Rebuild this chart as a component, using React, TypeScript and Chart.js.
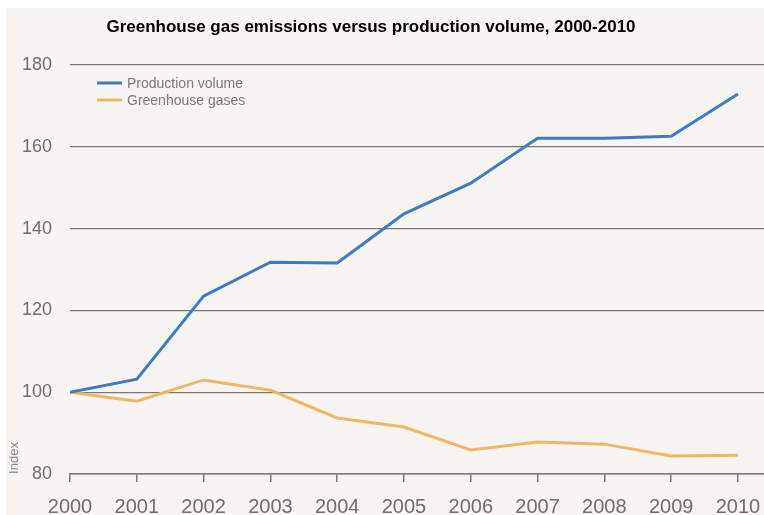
import React, { useEffect, useRef } from "react";
import { Chart, registerables } from "chart.js";

Chart.register(...registerables);

const years = [2000, 2001, 2002, 2003, 2004, 2005, 2006, 2007, 2008, 2009, 2010];
const productionVolume = [100, 103.2, 123.5, 131.8, 131.6, 143.6, 151.1, 162.1, 162.1, 162.6, 172.9];
const greenhouseGases = [100, 97.8, 103, 100.5, 93.7, 91.5, 85.9, 87.8, 87.3, 84.4, 84.6];
const yTicks = [80, 100, 120, 140, 160, 180];

const TITLE = "Greenhouse gas emissions versus production volume, 2000-2010";
const BG = "#f7f4f1";
const BLUE = "#3d7cc4";
const ORANGE = "#f0b866";
const TEXT_GREY = "#6e6e6e";
const FONT = "'Liberation Sans', Arial, sans-serif";

const decorations = {
  id: "decorations",
  beforeDraw(chart: any) {
    const { ctx, width, height } = chart;
    ctx.save();
    ctx.fillStyle = BG;
    ctx.fillRect(0, 0, width, height);
    ctx.restore();
  },
  afterDraw(chart: any) {
    const { ctx, chartArea } = chart;
    ctx.save();
    // title
    ctx.fillStyle = "#000";
    ctx.font = `bold 17px ${FONT}`;
    ctx.textAlign = "center";
    ctx.textBaseline = "middle";
    ctx.fillText(TITLE, 365, 19);

    // legend
    ctx.font = `14px ${FONT}`;
    ctx.textAlign = "left";
    chart.data.datasets.forEach((ds: any, i: number) => {
      const y = 75 + i * 17;
      ctx.strokeStyle = ds.borderColor;
      ctx.lineWidth = 3;
      ctx.beginPath();
      ctx.moveTo(91, y);
      ctx.lineTo(116, y);
      ctx.stroke();
      ctx.fillStyle = "#7a7a7a";
      ctx.fillText(ds.label, 121, y + 1);
    });

    // axis title
    ctx.translate(8, chartArea.bottom - 16);
    ctx.rotate(-Math.PI / 2);
    ctx.font = `13px ${FONT}`;
    ctx.fillStyle = "#8a8a8a";
    ctx.textAlign = "center";
    ctx.fillText("Index", 0, 0);
    ctx.restore();
  },
};

export default function App() {
  const canvasRef = useRef<HTMLCanvasElement>(null);

  useEffect(() => {
    if (!canvasRef.current) return;
    const chart = new Chart(canvasRef.current, {
      type: "line",
      data: {
        datasets: [
          {
            label: "Production volume",
            data: years.map((x, i) => ({ x, y: productionVolume[i] })),
            borderColor: BLUE,
            borderWidth: 3,
            pointRadius: 0,
            tension: 0,
          },
          {
            label: "Greenhouse gases",
            data: years.map((x, i) => ({ x, y: greenhouseGases[i] })),
            borderColor: ORANGE,
            borderWidth: 3,
            pointRadius: 0,
            tension: 0,
          },
        ],
      },
      options: {
        animation: false,
        responsive: false,
        maintainAspectRatio: false,
        layout: { padding: { top: 57, left: 0, right: 0, bottom: 0 } },
        plugins: {
          legend: { display: false },
          title: { display: false },
          tooltip: { enabled: false },
        },
        scales: {
          x: {
            type: "linear",
            min: 2000,
            max: 2010.39,
            afterBuildTicks: (scale: any) => {
              scale.ticks = years.map((v) => ({ value: v }));
            },
            afterFit: (scale: any) => {
              scale.height = 41;
              scale.paddingLeft = 0;
              scale.paddingRight = 0;
            },
            ticks: {
              callback: (v: any) => String(v),
              color: TEXT_GREY,
              font: { family: FONT, size: 20 },
              padding: 13,
              maxRotation: 0,
              autoSkip: false,
            },
            grid: {
              drawOnChartArea: false,
              drawTicks: true,
              tickLength: 8,
              color: "#777",
              lineWidth: 1.5,
            },
            border: { display: true, color: "#777", width: 1.5 },
          },
          y: {
            min: 80,
            max: 180,
            afterBuildTicks: (scale: any) => {
              scale.ticks = yTicks.map((v) => ({ value: v }));
            },
            afterFit: (scale: any) => {
              scale.width = 64;
              scale.paddingTop = 0;
              scale.paddingBottom = 0;
            },
            ticks: {
              color: TEXT_GREY,
              font: { family: FONT, size: 18 },
              padding: 18,
            },
            grid: { drawTicks: false, color: "#7a7a7a", lineWidth: 1.2 },
            border: { display: false },
          },
        },
      },
      plugins: [decorations],
    });
    return () => chart.destroy();
  }, []);

  return (
    <div style={{ position: "absolute", left: 6, top: 8, width: 758, height: 507 }}>
      <canvas ref={canvasRef} width={758} height={507} style={{ display: "block" }} />
    </div>
  );
}
